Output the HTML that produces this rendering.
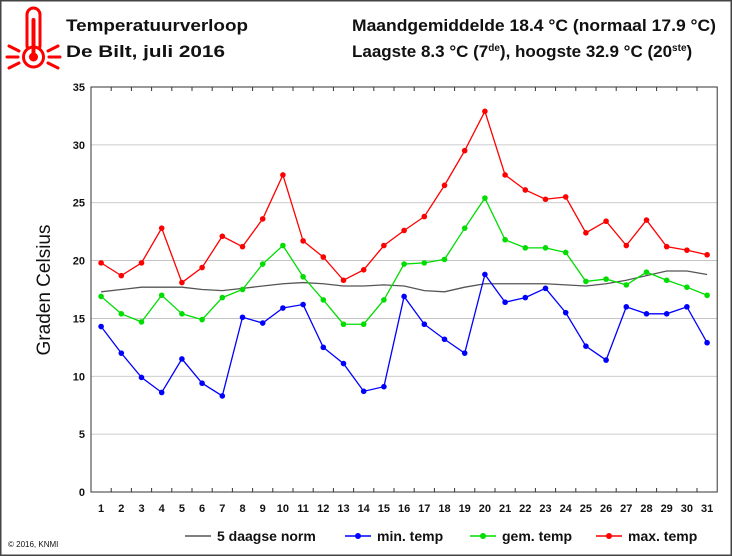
<!DOCTYPE html>
<html><head><meta charset="utf-8"><style>
body{margin:0;background:#fff;}
svg{display:block;font-family:"Liberation Sans",sans-serif;}
</style></head><body>
<svg id="s" width="732" height="556" xmlns="http://www.w3.org/2000/svg">
<rect x="0.5" y="0.5" width="731" height="555" fill="#fff" stroke="#444" stroke-width="2"/>
<g stroke="#f00" fill="none" stroke-width="3" stroke-linecap="round">
<rect x="27" y="8" width="13" height="44" rx="6.5" fill="#fff"/>
<circle cx="33.5" cy="57" r="10" fill="#fff"/>
<circle cx="33.5" cy="57" r="4.5" fill="#f00" stroke="none"/>
<line x1="33.5" y1="20" x2="33.5" y2="53" stroke-width="4"/>
<line x1="9" y1="46" x2="19" y2="51"/><line x1="7" y1="57" x2="18" y2="57"/><line x1="9" y1="68" x2="19" y2="63"/>
<line x1="48" y1="51" x2="58" y2="46"/><line x1="49" y1="57" x2="60" y2="57"/><line x1="48" y1="63" x2="58" y2="68"/>
</g>
<g font-weight="bold" font-size="17" fill="#111">
<text x="66" y="31" textLength="182" lengthAdjust="spacingAndGlyphs">Temperatuurverloop</text>
<text x="66" y="57" textLength="159" lengthAdjust="spacingAndGlyphs">De Bilt, juli 2016</text>
<text x="352" y="31" textLength="364" lengthAdjust="spacingAndGlyphs">Maandgemiddelde 18.4 °C (normaal 17.9 °C)</text>
<text x="352" y="57">Laagste 8.3 °C (7<tspan font-size="10" dy="-6">de</tspan><tspan dy="6">), hoogste 32.9 °C (20</tspan><tspan font-size="10" dy="-6">ste</tspan><tspan dy="6">)</tspan></text>
</g>
<text transform="translate(50,290) rotate(-90)" text-anchor="middle" font-size="19" fill="#111">Graden Celsius</text>
<text x="8" y="547" font-size="8" fill="#111">© 2016,  KNMI</text>
<g id="g"></g>
</svg>
<script>
const g=document.getElementById('g');let h='';
const X0=91,DX=20.2,Y0=492,SY=405/35;
const x=i=>X0+(i+0.5)*DX,y=v=>Y0-v*SY;
for(let v=5;v<=35;v+=5)h+=`<line x1="${X0}" x2="${X0+31*DX}" y1="${y(v)}" y2="${y(v)}" stroke="#bbb" stroke-width="0.8"/>`;
for(let i=1;i<31;i++){const xx=X0+i*DX;h+=`<line x1="${xx}" x2="${xx}" y1="${Y0}" y2="${Y0-4}" stroke="#333"/><line x1="${xx}" x2="${xx}" y1="${y(35)}" y2="${y(35)+4}" stroke="#333"/>`;}
h+=`<rect x="${X0}" y="${y(35)}" width="${31*DX}" height="${35*SY}" fill="none" stroke="#333"/>`;
for(let v=0;v<=35;v+=5)h+=`<text x="${X0-6}" y="${y(v)+4}" text-anchor="end" font-size="11" font-weight="bold" fill="#111">${v}</text>`;
for(let i=0;i<31;i++)h+=`<text x="${x(i)}" y="512" text-anchor="middle" font-size="11" font-weight="bold" fill="#111">${i+1}</text>`;
const mx=[19.8,18.7,19.8,22.8,18.1,19.4,22.1,21.2,23.6,27.4,21.7,20.3,18.3,19.2,21.3,22.6,23.8,26.5,29.5,32.9,27.4,26.1,25.3,25.5,22.4,23.4,21.3,23.5,21.2,20.9,20.5];
const gm=[16.9,15.4,14.7,17.0,15.4,14.9,16.8,17.5,19.7,21.3,18.6,16.6,14.5,14.5,16.6,19.7,19.8,20.1,22.8,25.4,21.8,21.1,21.1,20.7,18.2,18.4,17.9,19.0,18.3,17.7,17.0];
const mn=[14.3,12.0,9.9,8.6,11.5,9.4,8.3,15.1,14.6,15.9,16.2,12.5,11.1,8.7,9.1,16.9,14.5,13.2,12.0,18.8,16.4,16.8,17.6,15.5,12.6,11.4,16.0,15.4,15.4,16.0,12.9];
const nm=[17.3,17.5,17.7,17.7,17.7,17.5,17.4,17.6,17.8,18.0,18.1,18.0,17.8,17.8,17.9,17.8,17.4,17.3,17.7,18.0,18.0,18.0,18.0,17.9,17.8,18.0,18.3,18.7,19.1,19.1,18.8];
const line=(d,c,dots)=>{h+=`<polyline fill="none" stroke="${c}" stroke-width="1.3" points="${d.map((v,i)=>x(i)+','+y(v)).join(' ')}"/>`;if(dots)d.forEach((v,i)=>h+=`<circle cx="${x(i)}" cy="${y(v)}" r="2.8" fill="${c}"/>`);};
line(nm,'#555',false);line(mn,'#00f',true);line(gm,'#0d0',true);line(mx,'#f00',true);
const lg=[[185,'#555',0,'5 daagse norm'],[345,'#00f',1,'min. temp'],[470,'#0d0',1,'gem. temp'],[596,'#f00',1,'max. temp']];
lg.forEach(([lx,c,d,t])=>{h+=`<line x1="${lx}" x2="${lx+26}" y1="536" y2="536" stroke="${c}" stroke-width="1.5"/>`;if(d)h+=`<circle cx="${lx+13}" cy="536" r="3" fill="${c}"/>`;h+=`<text x="${lx+32}" y="541" font-size="14" font-weight="bold" fill="#111">${t}</text>`;});
g.innerHTML=h;
</script>
</body></html>
